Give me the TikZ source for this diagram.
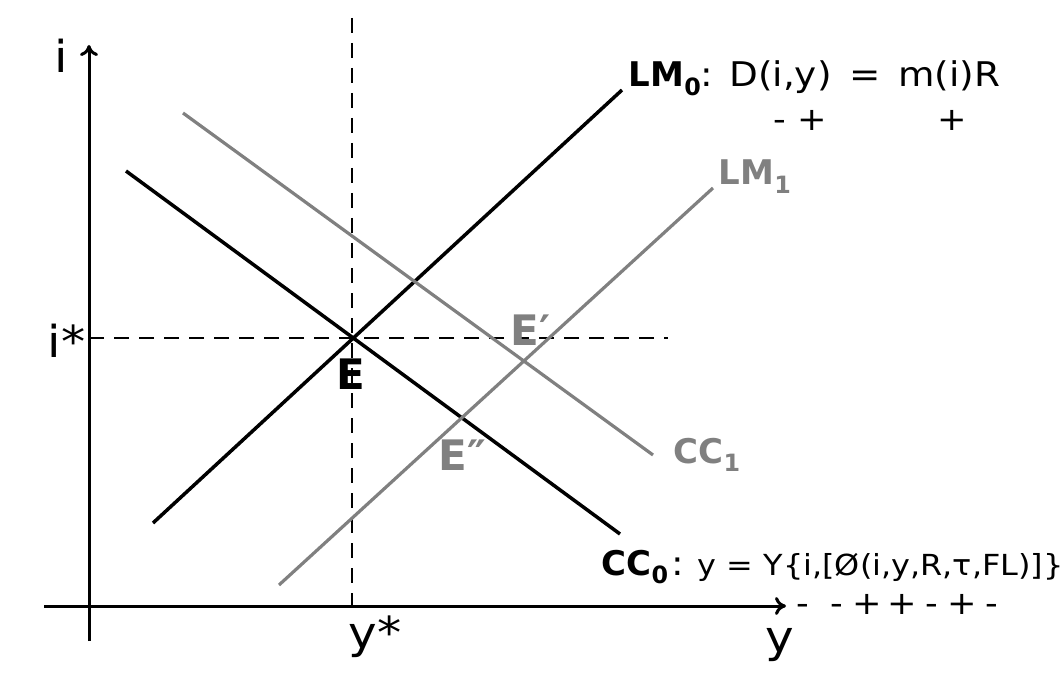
\documentclass[tikz,border=0pt]{standalone}
\usepackage{fontspec}
\setmainfont{DejaVu Sans}[FakeStretch=1.1]
\newfontfamily\heavyface{DejaVu Sans Bold}
\usetikzlibrary{arrows.meta, positioning}

\definecolor{shiftgray}{gray}{0.5}
\newcommand{\lowidx}[1]{\raisebox{-0.24em}{\scalebox{0.7}{#1}}}

\tikzset{
  eqtext/.style={font=\fontsize{34}{40}\selectfont, inner sep=0pt},
  boldtext/.style={font=\fontsize{34}{40}\selectfont\heavyface, inner sep=0pt},
  axistext/.style={font=\fontsize{44}{50}\selectfont, inner sep=0pt},
  pointtext/.style={font=\fontsize{42}{48}\selectfont\heavyface, inner sep=0pt},
  signtext/.style={font=\fontsize{32}{36}\selectfont, inner sep=0pt, anchor=base},
  shifted/.style={draw=shiftgray, line width=3.2pt},
  guide/.style={line width=2.6pt, dash pattern=on 15pt off 10pt}
}

\begin{document}
\begin{tikzpicture}[x=1pt, y=-1pt, line width=3.5pt, >={To[length=11pt, width=18pt]}]
  \useasboundingbox (0,0) rectangle (1063,687);

  % Axes
  \coordinate (ybot) at (89,641);
  \coordinate (ytop) at (89,45);
  \coordinate (xleft) at (44,606);
  \coordinate (xright) at (786,606);
  \draw[->, line width=3pt] (ybot) -- (ytop);
  \draw[->, line width=3pt] (xleft) -- (xright);
  \node[axistext, anchor=base] (ilabel) at (61,73) {i};
  \node[axistext, anchor=base] (ylabel) at (780,652) {y};

  % Equilibrium guides
  \coordinate (E) at (352,338);
  \coordinate (vtop) at (352,18);
  \coordinate (vbot) at (352,606);
  \coordinate (hleft) at (89,338);
  \coordinate (hright) at (668,338);
  \draw[guide] (vtop) -- (vbot);
  \draw[guide] (hleft) -- (hright);
  \node[axistext, anchor=base east] (istar) at (87,357) {i*};
  \node[axistext, anchor=base] (ystar) at (375,648) {y*};

  % Initial curves
  \coordinate (cc0a) at (126,171);
  \coordinate (cc0b) at (620,534);
  \coordinate (lm0a) at (153,523);
  \coordinate (lm0b) at (622,90);
  \draw (cc0a) -- (cc0b);
  \draw (lm0a) -- (lm0b);

  % Shifted curves
  \coordinate (cc1a) at (183,113);
  \coordinate (cc1b) at (653,455);
  \coordinate (lm1a) at (279,585);
  \coordinate (lm1b) at (713,188);
  \draw[shifted] (cc1a) -- (cc1b);
  \draw[shifted] (lm1a) -- (lm1b);

  % Points
  \node[pointtext, anchor=base] (Elabel) at (351,389) {E};
  \node[pointtext, shiftgray, anchor=base west] (E1label) at (509,345) {E′};
  \node[pointtext, shiftgray, anchor=base west] (E2label) at (437,470) {E″};

  % Curve labels
  \node[eqtext, anchor=base west] (lm0text) at (627,87)
    {{\heavyface LM\lowidx{0}}: D(i,y)\, =\, m(i)R};
  \node[signtext] (lm0s1) at (780,131) {-};
  \node[signtext] (lm0s2) at (812,131) {+};
  \node[signtext] (lm0s3) at (952,131) {+};
  \node[boldtext, shiftgray, anchor=base west] (lm1text) at (717,185) {LM\lowidx{1}};
  \node[boldtext, shiftgray, anchor=base west] (cc1text) at (672,463) {CC\lowidx{1}};
  \node[boldtext, anchor=base west] (cc0text) at (600,575) {CC\lowidx{0}};
  \node[eqtext, anchor=base west, font=\fontsize{29}{34}\selectfont] (cc0eq) at (cc0text.base east)
    {{\fontsize{34}{40}\selectfont:} y = Y\{i,[Ø(i,y,R,τ,FL)]\}};
  \foreach \px/\sg [count=\k] in {803/-, 837/-, 867/+, 902/+, 932/-, 962/+, 992/-}
    \node[signtext] (cc0s\k) at (\px,614) {\sg};
\end{tikzpicture}
\end{document}
